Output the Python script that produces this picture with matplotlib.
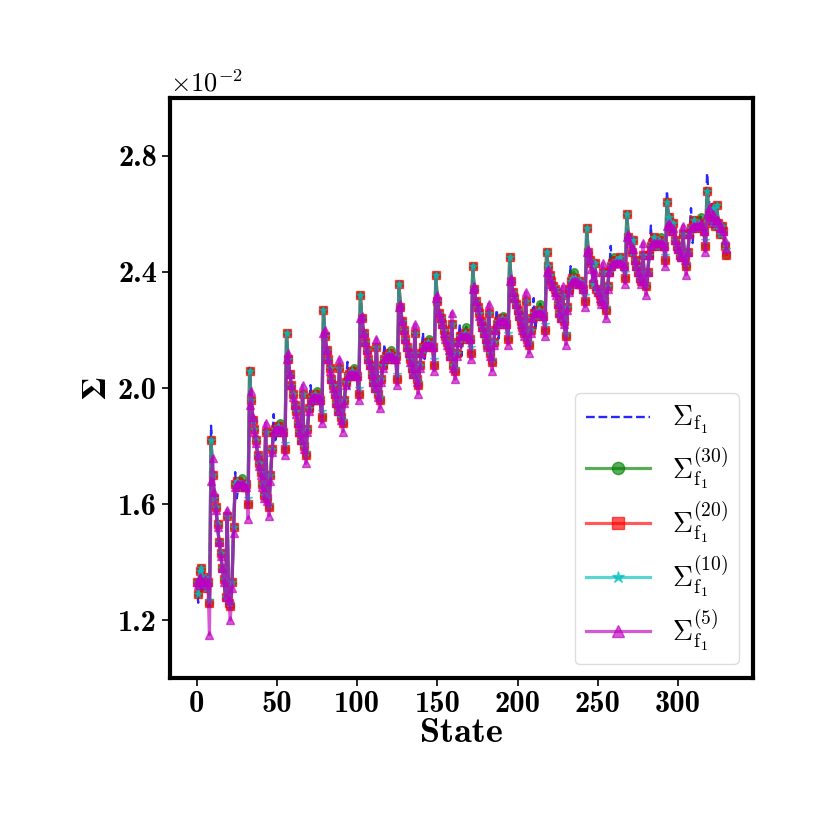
import matplotlib
matplotlib.use("Agg")
import matplotlib.pyplot as plt
import numpy as np

plt.rcParams["mathtext.fontset"] = "cm"
plt.rcParams["font.family"] = "serif"
plt.rcParams["font.serif"] = ["cmb10", "DejaVu Serif"]
plt.rcParams["axes.unicode_minus"] = False

# values in units of 1e-2, one per state (0..330)
sigma_exact = [
    1.33, 1.26, 1.38, 1.30, 1.36, 1.34, 1.32, 1.35, 1.25,
    1.87, 1.70, 1.62, 1.59, 1.53, 1.47, 1.43, 1.38, 1.34, 1.28, 1.56, 1.26, 1.25, 1.33, 1.52, 1.71, 1.62, 1.66, 1.67, 1.69, 1.67, 1.66, 1.67, 1.60,
    2.07, 1.96, 1.89, 1.86, 1.82, 1.77, 1.74, 1.71, 1.67, 1.63, 1.85, 1.62, 1.59, 1.70, 1.79, 1.91, 1.82, 1.85, 1.87, 1.88, 1.86, 1.85, 1.79,
    2.19, 2.10, 2.05, 2.01, 1.98, 1.94, 1.92, 1.88, 1.85, 1.82, 1.98, 1.80, 1.77, 1.86, 1.93, 2.01, 1.92, 1.96, 1.98, 1.99, 1.97, 1.96, 1.90,
    2.27, 2.18, 2.13, 2.10, 2.07, 2.03, 2.01, 1.98, 1.95, 1.92, 2.07, 1.90, 1.88, 1.96, 2.02, 2.09, 2.00, 2.04, 2.06, 2.07, 2.05, 2.04, 1.98,
    2.32, 2.24, 2.19, 2.16, 2.13, 2.10, 2.08, 2.05, 2.02, 2.00, 2.14, 1.98, 1.96, 2.03, 2.08, 2.15, 2.06, 2.10, 2.12, 2.13, 2.11, 2.10, 2.11, 2.03,
    2.36, 2.28, 2.23, 2.20, 2.17, 2.14, 2.12, 2.10, 2.07, 2.05, 2.19, 2.03, 2.01, 2.08, 2.12, 2.19, 2.10, 2.14, 2.16, 2.17, 2.15, 2.14, 2.08,
    2.39, 2.30, 2.26, 2.24, 2.22, 2.20, 2.18, 2.16, 2.14, 2.11, 2.22, 2.08, 2.06, 2.12, 2.16, 2.22, 2.11, 2.17, 2.19, 2.21, 2.18, 2.17, 2.12,
    2.42, 2.34, 2.30, 2.28, 2.26, 2.23, 2.21, 2.19, 2.17, 2.15, 2.26, 2.12, 2.09, 2.16, 2.20, 2.27, 2.17, 2.22, 2.24, 2.25, 2.23, 2.22, 2.17,
    2.45, 2.37, 2.33, 2.31, 2.29, 2.27, 2.25, 2.23, 2.21, 2.19, 2.30, 2.17, 2.15, 2.20, 2.24, 2.31, 2.20, 2.25, 2.27, 2.29, 2.26, 2.25, 2.20,
    2.47, 2.42, 2.39, 2.37, 2.35, 2.34, 2.33, 2.29, 2.26, 2.24, 2.32, 2.23, 2.18, 2.28, 2.34, 2.42, 2.32, 2.40, 2.38, 2.37, 2.36, 2.37, 2.36, 2.34, 2.30,
    2.55, 2.47, 2.44, 2.43, 2.36, 2.43, 2.34, 2.33, 2.32, 2.30, 2.40, 2.30, 2.27, 2.35, 2.40, 2.49, 2.39, 2.45, 2.44, 2.43, 2.44, 2.45, 2.43, 2.42, 2.38,
    2.60, 2.52, 2.51, 2.47, 2.51, 2.44, 2.42, 2.40, 2.38, 2.37, 2.46, 2.38, 2.35, 2.40, 2.46, 2.56, 2.45, 2.52, 2.50, 2.49, 2.51, 2.52, 2.50, 2.49, 2.44,
    2.68, 2.59, 2.60, 2.54, 2.57, 2.51, 2.49, 2.48, 2.46, 2.45, 2.53, 2.45, 2.42, 2.47, 2.53, 2.62, 2.50, 2.58, 2.56, 2.55, 2.57, 2.59, 2.56, 2.54, 2.49,
    2.74, 2.66, 2.60, 2.64, 2.62, 2.56, 2.63, 2.57, 2.53, 2.56, 2.54, 2.49, 2.46,
]

sigma_30 = [
    1.33, 1.29, 1.37, 1.38, 1.33, 1.35, 1.31, 1.33, 1.26,
    1.82, 1.70, 1.62, 1.59, 1.53, 1.47, 1.43, 1.38, 1.34, 1.28, 1.56, 1.26, 1.25, 1.33, 1.52, 1.67, 1.68, 1.66, 1.67, 1.69, 1.67, 1.66, 1.67, 1.60,
    2.06, 1.96, 1.89, 1.86, 1.82, 1.77, 1.74, 1.71, 1.67, 1.63, 1.85, 1.62, 1.59, 1.70, 1.79, 1.85, 1.86, 1.85, 1.87, 1.88, 1.86, 1.85, 1.79,
    2.19, 2.10, 2.05, 2.01, 1.98, 1.94, 1.92, 1.88, 1.85, 1.82, 1.98, 1.80, 1.77, 1.86, 1.93, 1.96, 1.97, 1.96, 1.98, 1.99, 1.97, 1.96, 1.90,
    2.27, 2.18, 2.13, 2.10, 2.07, 2.03, 2.01, 1.98, 1.95, 1.92, 2.07, 1.90, 1.88, 1.96, 2.02, 2.04, 2.05, 2.04, 2.06, 2.07, 2.05, 2.04, 1.98,
    2.32, 2.24, 2.19, 2.16, 2.13, 2.10, 2.08, 2.05, 2.02, 2.00, 2.14, 1.98, 1.96, 2.03, 2.08, 2.10, 2.11, 2.10, 2.12, 2.13, 2.11, 2.10, 2.11, 2.03,
    2.36, 2.28, 2.23, 2.20, 2.17, 2.14, 2.12, 2.10, 2.07, 2.05, 2.19, 2.03, 2.01, 2.08, 2.12, 2.14, 2.15, 2.14, 2.16, 2.17, 2.15, 2.14, 2.08,
    2.39, 2.30, 2.26, 2.24, 2.22, 2.20, 2.18, 2.16, 2.14, 2.11, 2.22, 2.08, 2.06, 2.12, 2.16, 2.18, 2.18, 2.17, 2.19, 2.21, 2.18, 2.17, 2.12,
    2.42, 2.34, 2.30, 2.28, 2.26, 2.23, 2.21, 2.19, 2.17, 2.15, 2.26, 2.12, 2.09, 2.16, 2.20, 2.22, 2.23, 2.22, 2.24, 2.25, 2.23, 2.22, 2.17,
    2.45, 2.37, 2.33, 2.31, 2.29, 2.27, 2.25, 2.23, 2.21, 2.19, 2.30, 2.17, 2.15, 2.20, 2.24, 2.26, 2.26, 2.25, 2.27, 2.29, 2.26, 2.25, 2.20,
    2.47, 2.42, 2.39, 2.37, 2.35, 2.34, 2.33, 2.29, 2.26, 2.24, 2.32, 2.23, 2.18, 2.28, 2.34, 2.37, 2.38, 2.40, 2.38, 2.37, 2.36, 2.37, 2.36, 2.34, 2.30,
    2.55, 2.47, 2.44, 2.43, 2.36, 2.43, 2.34, 2.33, 2.32, 2.30, 2.40, 2.30, 2.27, 2.35, 2.40, 2.42, 2.43, 2.45, 2.44, 2.43, 2.44, 2.45, 2.43, 2.42, 2.38,
    2.60, 2.52, 2.51, 2.47, 2.51, 2.44, 2.42, 2.40, 2.38, 2.37, 2.46, 2.38, 2.35, 2.40, 2.46, 2.49, 2.50, 2.52, 2.50, 2.49, 2.51, 2.52, 2.50, 2.49, 2.44,
    2.64, 2.59, 2.57, 2.54, 2.57, 2.51, 2.49, 2.48, 2.46, 2.45, 2.53, 2.45, 2.42, 2.47, 2.53, 2.55, 2.56, 2.58, 2.56, 2.55, 2.57, 2.59, 2.56, 2.54, 2.49,
    2.68, 2.62, 2.60, 2.57, 2.62, 2.56, 2.63, 2.57, 2.53, 2.56, 2.54, 2.49, 2.46,
]

sigma_20 = [
    1.33, 1.29, 1.37, 1.38, 1.33, 1.35, 1.31, 1.33, 1.26,
    1.82, 1.70, 1.62, 1.59, 1.53, 1.47, 1.43, 1.38, 1.34, 1.28, 1.56, 1.26, 1.25, 1.33, 1.52, 1.67, 1.68, 1.66, 1.67, 1.67, 1.67, 1.66, 1.67, 1.60,
    2.06, 1.96, 1.89, 1.86, 1.82, 1.77, 1.74, 1.71, 1.67, 1.63, 1.85, 1.62, 1.59, 1.70, 1.79, 1.85, 1.86, 1.85, 1.87, 1.86, 1.86, 1.85, 1.79,
    2.19, 2.10, 2.05, 2.01, 1.98, 1.94, 1.92, 1.88, 1.85, 1.82, 1.98, 1.80, 1.77, 1.86, 1.93, 1.96, 1.97, 1.96, 1.98, 1.97, 1.97, 1.96, 1.90,
    2.27, 2.18, 2.13, 2.10, 2.07, 2.03, 2.01, 1.98, 1.95, 1.92, 2.07, 1.90, 1.88, 1.96, 2.02, 2.04, 2.05, 2.04, 2.06, 2.05, 2.05, 2.04, 1.98,
    2.32, 2.24, 2.19, 2.16, 2.13, 2.10, 2.08, 2.05, 2.02, 2.00, 2.14, 1.98, 1.96, 2.03, 2.08, 2.10, 2.11, 2.10, 2.12, 2.11, 2.11, 2.10, 2.11, 2.03,
    2.36, 2.28, 2.23, 2.20, 2.17, 2.14, 2.12, 2.10, 2.07, 2.05, 2.19, 2.03, 2.01, 2.08, 2.12, 2.14, 2.15, 2.14, 2.16, 2.15, 2.15, 2.14, 2.08,
    2.39, 2.30, 2.26, 2.24, 2.22, 2.20, 2.18, 2.16, 2.14, 2.11, 2.22, 2.08, 2.06, 2.12, 2.16, 2.18, 2.18, 2.17, 2.19, 2.18, 2.18, 2.17, 2.12,
    2.42, 2.34, 2.30, 2.28, 2.26, 2.23, 2.21, 2.19, 2.17, 2.15, 2.26, 2.12, 2.09, 2.16, 2.20, 2.22, 2.23, 2.22, 2.24, 2.23, 2.23, 2.22, 2.17,
    2.45, 2.37, 2.33, 2.31, 2.29, 2.27, 2.25, 2.23, 2.21, 2.19, 2.30, 2.17, 2.15, 2.20, 2.24, 2.26, 2.26, 2.25, 2.27, 2.26, 2.26, 2.25, 2.20,
    2.47, 2.42, 2.39, 2.37, 2.35, 2.34, 2.33, 2.29, 2.26, 2.24, 2.32, 2.23, 2.18, 2.28, 2.34, 2.37, 2.38, 2.37, 2.38, 2.37, 2.36, 2.37, 2.36, 2.34, 2.30,
    2.55, 2.47, 2.44, 2.43, 2.36, 2.43, 2.34, 2.33, 2.32, 2.30, 2.40, 2.30, 2.27, 2.35, 2.40, 2.42, 2.43, 2.43, 2.44, 2.43, 2.44, 2.45, 2.43, 2.42, 2.38,
    2.60, 2.52, 2.51, 2.47, 2.51, 2.44, 2.42, 2.40, 2.38, 2.37, 2.46, 2.38, 2.35, 2.40, 2.46, 2.49, 2.50, 2.52, 2.50, 2.49, 2.51, 2.50, 2.50, 2.49, 2.44,
    2.64, 2.59, 2.57, 2.54, 2.57, 2.51, 2.49, 2.48, 2.46, 2.45, 2.53, 2.45, 2.42, 2.47, 2.53, 2.55, 2.56, 2.58, 2.56, 2.55, 2.57, 2.56, 2.56, 2.54, 2.49,
    2.68, 2.62, 2.60, 2.57, 2.62, 2.56, 2.63, 2.57, 2.53, 2.56, 2.54, 2.49, 2.46,
]

sigma_10 = [
    1.33, 1.29, 1.37, 1.38, 1.33, 1.35, 1.31, 1.33, 1.27,
    1.82, 1.70, 1.62, 1.59, 1.53, 1.47, 1.43, 1.38, 1.34, 1.28, 1.56, 1.26, 1.26, 1.33, 1.52, 1.67, 1.68, 1.66, 1.67, 1.67, 1.67, 1.66, 1.67, 1.62,
    2.06, 1.96, 1.89, 1.86, 1.82, 1.77, 1.74, 1.71, 1.67, 1.63, 1.85, 1.62, 1.60, 1.70, 1.79, 1.85, 1.86, 1.85, 1.87, 1.86, 1.86, 1.85, 1.81,
    2.19, 2.10, 2.05, 2.01, 1.98, 1.94, 1.92, 1.88, 1.85, 1.82, 1.98, 1.80, 1.78, 1.86, 1.93, 1.96, 1.97, 1.96, 1.98, 1.97, 1.97, 1.96, 1.92,
    2.27, 2.18, 2.13, 2.10, 2.07, 2.03, 2.01, 1.98, 1.95, 1.92, 2.07, 1.90, 1.89, 1.96, 2.02, 2.04, 2.05, 2.04, 2.06, 2.05, 2.05, 2.04, 2.00,
    2.32, 2.24, 2.19, 2.16, 2.13, 2.10, 2.08, 2.05, 2.02, 2.00, 2.14, 1.98, 1.97, 2.03, 2.08, 2.10, 2.11, 2.10, 2.12, 2.11, 2.11, 2.10, 2.11, 2.05,
    2.36, 2.28, 2.23, 2.20, 2.17, 2.14, 2.12, 2.10, 2.07, 2.05, 2.19, 2.03, 2.02, 2.08, 2.12, 2.14, 2.15, 2.14, 2.16, 2.15, 2.15, 2.14, 2.10,
    2.39, 2.30, 2.26, 2.24, 2.22, 2.20, 2.18, 2.16, 2.14, 2.11, 2.22, 2.08, 2.07, 2.12, 2.16, 2.18, 2.18, 2.17, 2.19, 2.18, 2.18, 2.17, 2.14,
    2.42, 2.34, 2.30, 2.28, 2.26, 2.23, 2.21, 2.19, 2.17, 2.15, 2.26, 2.12, 2.10, 2.16, 2.20, 2.22, 2.23, 2.22, 2.24, 2.23, 2.23, 2.22, 2.19,
    2.45, 2.37, 2.33, 2.31, 2.29, 2.27, 2.25, 2.23, 2.21, 2.19, 2.30, 2.17, 2.16, 2.20, 2.24, 2.26, 2.26, 2.25, 2.27, 2.26, 2.26, 2.25, 2.22,
    2.47, 2.42, 2.39, 2.37, 2.35, 2.34, 2.33, 2.29, 2.26, 2.24, 2.32, 2.23, 2.19, 2.28, 2.34, 2.37, 2.38, 2.37, 2.38, 2.37, 2.36, 2.37, 2.36, 2.34, 2.32,
    2.55, 2.47, 2.44, 2.43, 2.36, 2.43, 2.34, 2.33, 2.32, 2.30, 2.40, 2.30, 2.28, 2.35, 2.40, 2.42, 2.43, 2.43, 2.44, 2.43, 2.44, 2.45, 2.43, 2.42, 2.40,
    2.60, 2.52, 2.51, 2.47, 2.51, 2.44, 2.42, 2.40, 2.38, 2.37, 2.46, 2.38, 2.36, 2.40, 2.46, 2.49, 2.50, 2.52, 2.50, 2.49, 2.51, 2.50, 2.50, 2.49, 2.46,
    2.64, 2.59, 2.57, 2.54, 2.57, 2.51, 2.49, 2.48, 2.46, 2.45, 2.53, 2.45, 2.43, 2.47, 2.53, 2.55, 2.56, 2.58, 2.56, 2.55, 2.57, 2.56, 2.56, 2.54, 2.51,
    2.68, 2.62, 2.60, 2.57, 2.62, 2.56, 2.63, 2.57, 2.53, 2.56, 2.54, 2.50, 2.48,
]

sigma_5 = [
    1.33, 1.32, 1.35, 1.33, 1.33, 1.34, 1.32, 1.33, 1.15,
    1.68, 1.76, 1.64, 1.58, 1.52, 1.47, 1.42, 1.38, 1.33, 1.28, 1.58, 1.27, 1.20, 1.31, 1.50, 1.66, 1.67, 1.67, 1.67, 1.67, 1.67, 1.66, 1.66, 1.55,
    1.94, 1.99, 1.90, 1.85, 1.81, 1.77, 1.73, 1.70, 1.66, 1.62, 1.88, 1.61, 1.56, 1.68, 1.78, 1.85, 1.86, 1.86, 1.86, 1.86, 1.86, 1.85, 1.77,
    2.10, 2.12, 2.05, 2.01, 1.97, 1.94, 1.91, 1.88, 1.85, 1.82, 2.01, 1.79, 1.74, 1.85, 1.92, 1.96, 1.97, 1.97, 1.97, 1.97, 1.97, 1.96, 1.88,
    2.19, 2.20, 2.13, 2.10, 2.06, 2.03, 2.00, 1.98, 1.95, 1.92, 2.10, 1.89, 1.85, 1.95, 2.01, 2.04, 2.05, 2.05, 2.05, 2.05, 2.05, 2.04, 1.96,
    2.24, 2.25, 2.19, 2.16, 2.13, 2.10, 2.08, 2.05, 2.02, 2.00, 2.17, 1.97, 1.93, 2.02, 2.07, 2.10, 2.11, 2.11, 2.11, 2.11, 2.11, 2.10, 2.10, 2.01,
    2.28, 2.29, 2.23, 2.20, 2.17, 2.14, 2.12, 2.09, 2.07, 2.05, 2.22, 2.02, 1.98, 2.07, 2.12, 2.14, 2.15, 2.15, 2.15, 2.15, 2.15, 2.14, 2.06,
    2.31, 2.32, 2.26, 2.24, 2.22, 2.19, 2.17, 2.15, 2.13, 2.11, 2.26, 2.07, 2.03, 2.11, 2.16, 2.18, 2.18, 2.18, 2.18, 2.18, 2.18, 2.17, 2.10,
    2.34, 2.35, 2.30, 2.28, 2.25, 2.23, 2.21, 2.19, 2.17, 2.14, 2.29, 2.11, 2.06, 2.15, 2.20, 2.22, 2.23, 2.23, 2.23, 2.23, 2.23, 2.22, 2.15,
    2.37, 2.38, 2.33, 2.31, 2.29, 2.27, 2.25, 2.22, 2.20, 2.18, 2.33, 2.16, 2.12, 2.19, 2.24, 2.26, 2.26, 2.26, 2.26, 2.26, 2.26, 2.25, 2.18,
    2.40, 2.41, 2.38, 2.36, 2.35, 2.33, 2.32, 2.29, 2.26, 2.24, 2.35, 2.22, 2.15, 2.27, 2.33, 2.36, 2.37, 2.37, 2.37, 2.37, 2.36, 2.36, 2.36, 2.34, 2.28,
    2.47, 2.48, 2.44, 2.41, 2.38, 2.40, 2.35, 2.33, 2.31, 2.29, 2.43, 2.29, 2.24, 2.34, 2.40, 2.42, 2.43, 2.43, 2.43, 2.43, 2.43, 2.43, 2.43, 2.42, 2.36,
    2.52, 2.53, 2.50, 2.48, 2.48, 2.44, 2.42, 2.40, 2.38, 2.36, 2.50, 2.37, 2.32, 2.40, 2.46, 2.49, 2.50, 2.50, 2.50, 2.50, 2.50, 2.50, 2.50, 2.49, 2.42,
    2.56, 2.57, 2.56, 2.54, 2.55, 2.51, 2.49, 2.48, 2.46, 2.45, 2.56, 2.44, 2.39, 2.47, 2.53, 2.55, 2.56, 2.56, 2.56, 2.56, 2.56, 2.57, 2.56, 2.54, 2.47,
    2.60, 2.62, 2.59, 2.58, 2.60, 2.57, 2.58, 2.58, 2.55, 2.55, 2.54, 2.51, 2.48,
]

states = np.arange(len(sigma_exact))

fig = plt.figure(figsize=(8.3, 8.3), dpi=100)
ax = fig.add_axes([0.205, 0.183, 0.702, 0.699])

ax.plot(states, sigma_exact, "--", color="blue", lw=1.7, alpha=0.85,
        label=r"$\Sigma_{\mathrm{f_1}}$")
ax.plot(states, sigma_30, "-o", color="green", lw=2.3, ms=5.5, alpha=0.65,
        label=r"$\Sigma_{\mathrm{f_1}}^{(30)}$")
ax.plot(states, sigma_20, "-s", color="red", lw=2.3, ms=5.5, alpha=0.65,
        label=r"$\Sigma_{\mathrm{f_1}}^{(20)}$")
ax.plot(states, sigma_10, "-*", color="c", lw=2.3, ms=5.5, alpha=0.65,
        label=r"$\Sigma_{\mathrm{f_1}}^{(10)}$")
ax.plot(states, sigma_5, "-^", color="m", lw=2.3, ms=5.5, alpha=0.65,
        label=r"$\Sigma_{\mathrm{f_1}}^{(5)}$")

ax.set_ylim(1.0, 3.0)
ax.set_yticks([1.2, 1.6, 2.0, 2.4, 2.8])
ax.set_yticklabels(["1.2", "1.6", "2.0", "2.4", "2.8"])
ax.set_xticks([0, 50, 100, 150, 200, 250, 300])
ax.tick_params(labelsize=22, width=1.2, length=6)
for lab in ax.get_xticklabels() + ax.get_yticklabels():
    lab.set_fontfamily("cmb10")

for s in ax.spines.values():
    s.set_linewidth(3)

ax.text(0.0, 1.003, r"$\times10^{-2}$", transform=ax.transAxes,
        fontsize=19, ha="left", va="bottom")
ax.set_xlabel("State", fontsize=26, fontfamily="cmb10", labelpad=0)
ax.set_ylabel("Σ", fontsize=24, fontfamily="STIXGeneral",
              fontweight="bold", labelpad=4)

ax.legend(loc="lower right", fontsize=20, labelspacing=0.3,
          handlelength=2.3, borderpad=0.4, framealpha=1.0,
          edgecolor="#dddddd", markerscale=1.6)

fig.savefig("out.png", dpi=100)
